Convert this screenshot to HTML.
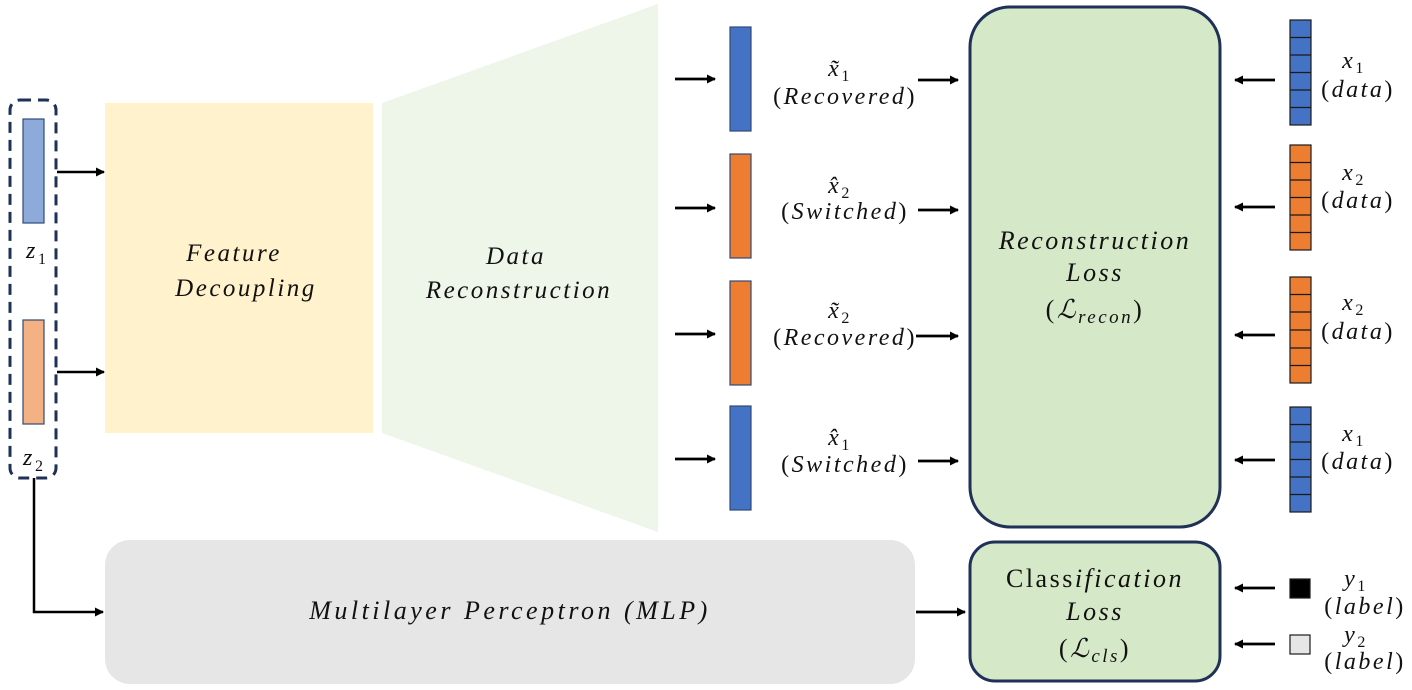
<!DOCTYPE html>
<html><head><meta charset="utf-8"><style>
html,body{margin:0;padding:0;background:#fff;width:1412px;height:690px;overflow:hidden}
text{font-family:"Liberation Serif","DejaVu Serif",serif;fill:#111;letter-spacing:2.5px}
.i{font-style:italic}
</style></head><body>
<svg width="1412" height="690" viewBox="0 0 1412 690" xmlns="http://www.w3.org/2000/svg">
<defs>
<marker id="a" markerWidth="9" markerHeight="9" refX="8" refY="4.5" orient="auto" markerUnits="userSpaceOnUse"><path d="M0,0 L9,4.5 L0,9 z" fill="#000"/></marker>
</defs>
<rect x="10" y="100" width="46" height="378" rx="10" fill="none" stroke="#1f3157" stroke-width="3" stroke-dasharray="11,7"/>
<rect x="23" y="119" width="21" height="104" fill="#8eaadb" stroke="#2f4a7a" stroke-width="1.2"/>
<rect x="23" y="320" width="21" height="104" fill="#f4b183" stroke="#2f4a7a" stroke-width="1.2"/>
<text x="26" y="258" class="i" font-size="24" style="letter-spacing:0">z</text><text x="38" y="264" font-size="16" style="letter-spacing:0">1</text>
<text x="23" y="465" class="i" font-size="24" style="letter-spacing:0">z</text><text x="35" y="471" font-size="16" style="letter-spacing:0">2</text>
<line x1="57" y1="172" x2="104" y2="172" stroke="#000" stroke-width="2.5" marker-end="url(#a)"/>
<line x1="57" y1="372" x2="104" y2="372" stroke="#000" stroke-width="2.5" marker-end="url(#a)"/>
<polyline points="34,478 34,612 103,612" fill="none" stroke="#000" stroke-width="2.5" marker-end="url(#a)"/>

<rect x="105" y="103" width="268" height="330" fill="#fff2cc"/>
<text x="234" y="261" class="i" font-size="25" text-anchor="middle">Feature</text>
<text x="246" y="296" class="i" font-size="25" text-anchor="middle">Decoupling</text>
<polygon points="382,103 658,4 658,532 382,433" fill="#eef5e9"/>
<text x="516" y="264" class="i" font-size="25" text-anchor="middle">Data</text>
<text x="519" y="298" class="i" font-size="25" text-anchor="middle">Reconstruction</text>

<rect x="730" y="27" width="21" height="104" fill="#4472c4" stroke="#2f4a7a" stroke-width="1.2"/>
<rect x="730" y="154" width="21" height="104" fill="#ed7d31" stroke="#2f4a7a" stroke-width="1.2"/>
<rect x="730" y="281" width="21" height="104" fill="#ed7d31" stroke="#2f4a7a" stroke-width="1.2"/>
<rect x="730" y="406" width="21" height="104" fill="#4472c4" stroke="#2f4a7a" stroke-width="1.2"/>
<g stroke="#000" stroke-width="2.8" marker-end="url(#a)">
<line x1="675" y1="79" x2="715" y2="79"/><line x1="675" y1="208" x2="715" y2="208"/>
<line x1="675" y1="334" x2="715" y2="334"/><line x1="675" y1="459" x2="715" y2="459"/>
<line x1="918" y1="80" x2="958" y2="80"/><line x1="918" y1="210" x2="958" y2="210"/>
<line x1="916" y1="336" x2="958" y2="336"/><line x1="918" y1="461" x2="958" y2="461"/>
<line x1="916" y1="612" x2="965" y2="612"/>
<line x1="1275" y1="80" x2="1235" y2="80"/><line x1="1275" y1="207" x2="1235" y2="207"/>
<line x1="1275" y1="335" x2="1235" y2="335"/><line x1="1275" y1="460" x2="1235" y2="460"/>
<line x1="1275" y1="588" x2="1235" y2="588"/><line x1="1275" y1="644" x2="1235" y2="644"/>
</g>
<g font-size="24" text-anchor="middle">
<text x="840" y="76" class="i">x̃<tspan font-size="16" font-style="normal" dy="5">1</tspan></text>
<text x="845" y="104">(<tspan class="i">Recovered</tspan>)</text>
<text x="840" y="193" class="i">x̂<tspan font-size="16" font-style="normal" dy="5">2</tspan></text>
<text x="845" y="219">(<tspan class="i">Switched</tspan>)</text>
<text x="840" y="318" class="i">x̃<tspan font-size="16" font-style="normal" dy="5">2</tspan></text>
<text x="845" y="345">(<tspan class="i">Recovered</tspan>)</text>
<text x="840" y="445" class="i">x̂<tspan font-size="16" font-style="normal" dy="5">1</tspan></text>
<text x="845" y="472">(<tspan class="i">Switched</tspan>)</text>
</g>

<rect x="970" y="7" width="250" height="520" rx="40" fill="#d5e8c8" stroke="#1f3157" stroke-width="3"/>
<g font-size="26" text-anchor="middle">
<text x="1095" y="249" class="i">Reconstruction</text>
<text x="1095" y="281" class="i">Loss</text>
<text x="1095" y="318">(<tspan class="i" font-family="DejaVu Serif">ℒ</tspan><tspan class="i" font-size="19" dy="5">recon</tspan><tspan dy="-5">)</tspan></text>
</g>
<rect x="970" y="542" width="250" height="139" rx="25" fill="#d5e8c8" stroke="#1f3157" stroke-width="3"/>
<g font-size="26" text-anchor="middle">
<text x="1095" y="587">Class<tspan class="i">ification</tspan></text>
<text x="1095" y="620" class="i">Loss</text>
<text x="1095" y="657">(<tspan class="i" font-family="DejaVu Serif">ℒ</tspan><tspan class="i" font-size="19" dy="5">cls</tspan><tspan dy="-5">)</tspan></text>
</g>

<rect x="105" y="540" width="810" height="144" rx="25" fill="#e7e6e6"/>
<text x="510" y="619" class="i" font-size="26" text-anchor="middle" style="letter-spacing:3.5px">Multilayer Perceptron (MLP)</text>

<g stroke="#1a1a1a" stroke-width="1.2">
<rect x="1290" y="20" width="21" height="105" fill="#4472c4"/>
<path d="M1290,37.5h21M1290,55h21M1290,72.5h21M1290,90h21M1290,107.5h21"/>
<rect x="1290" y="145" width="21" height="105" fill="#ed7d31"/>
<path d="M1290,162.5h21M1290,180h21M1290,197.5h21M1290,215h21M1290,232.5h21"/>
<rect x="1290" y="277" width="21" height="106" fill="#ed7d31"/>
<path d="M1290,294.5h21M1290,312h21M1290,330h21M1290,348h21M1290,365.5h21"/>
<rect x="1290" y="407" width="21" height="105" fill="#4472c4"/>
<path d="M1290,424.5h21M1290,442h21M1290,459.5h21M1290,477h21M1290,494.5h21"/>
<rect x="1290" y="579" width="20" height="19" fill="#000"/>
<rect x="1290" y="635" width="20" height="19" fill="#e6e6e6"/>
</g>
<g font-size="24" text-anchor="middle">
<text x="1354" y="68" class="i">x<tspan font-size="16" font-style="normal" dy="5">1</tspan></text>
<text x="1358" y="97">(<tspan class="i">data</tspan>)</text>
<text x="1354" y="180" class="i">x<tspan font-size="16" font-style="normal" dy="5">2</tspan></text>
<text x="1358" y="208">(<tspan class="i">data</tspan>)</text>
<text x="1354" y="310" class="i">x<tspan font-size="16" font-style="normal" dy="5">2</tspan></text>
<text x="1358" y="339">(<tspan class="i">data</tspan>)</text>
<text x="1354" y="441" class="i">x<tspan font-size="16" font-style="normal" dy="5">1</tspan></text>
<text x="1358" y="469">(<tspan class="i">data</tspan>)</text>
<text x="1356" y="586" class="i">y<tspan font-size="16" font-style="normal" dy="5">1</tspan></text>
<text x="1365" y="614">(<tspan class="i">label</tspan>)</text>
<text x="1356" y="642" class="i">y<tspan font-size="16" font-style="normal" dy="5">2</tspan></text>
<text x="1365" y="669">(<tspan class="i">label</tspan>)</text>
</g>
</svg>
</body></html>
